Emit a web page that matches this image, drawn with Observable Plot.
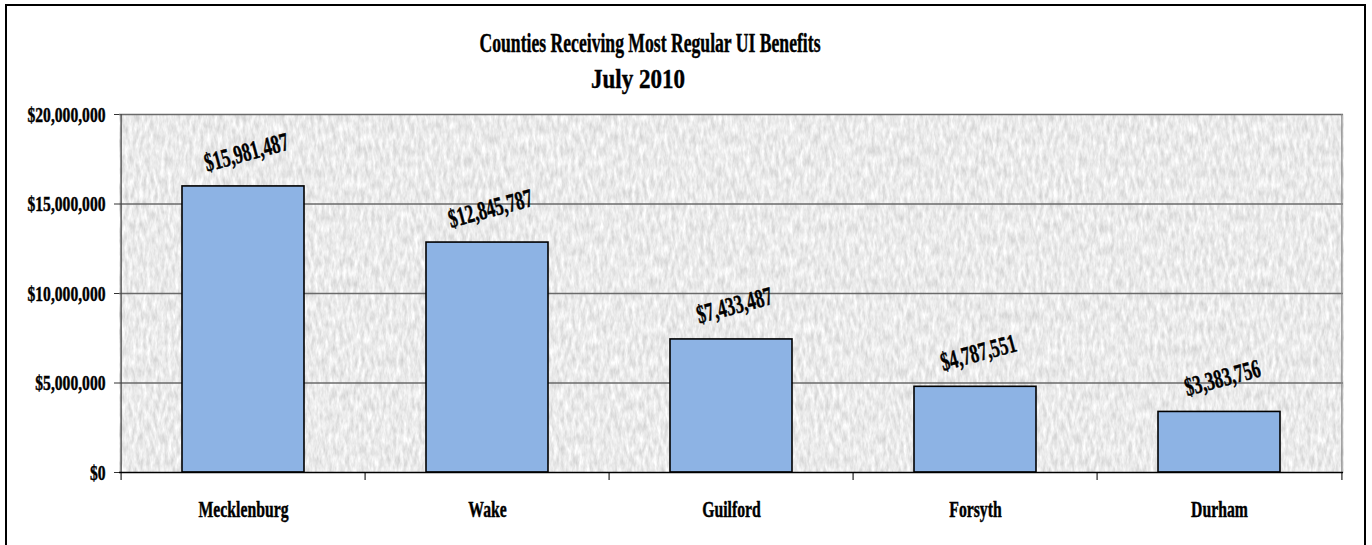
<!DOCTYPE html>
<html>
<head>
<meta charset="utf-8">
<script src="https://cdn.jsdelivr.net/npm/d3@7"></script>
<script src="https://cdn.jsdelivr.net/npm/@observablehq/plot@0.6"></script>
<style>
  html, body { margin: 0; padding: 0; background: #fff; overflow: hidden; }
  #wrap { position: relative; width: 1372px; height: 545px; overflow: hidden;
          font-family: "Liberation Serif", "Times New Roman", serif; }
  #border { position: absolute; left: 5px; top: 4px; width: 1357px; height: 600px;
            border: 2px solid #000; pointer-events: none; }
  #title { display: block; }
  #chart svg { display: block; }
  svg text { stroke: #000; stroke-width: 0.45px; }
</style>
</head>
<body>
<div id="wrap">
  <div id="border"></div>
  <svg id="title" width="1372" height="100"></svg>
  <div id="chart"></div>
</div>
<script>
// ---- data ----
const titleLines = ["Counties Receiving Most Regular UI Benefits", "July 2010"];
const counties = ["Mecklenburg", "Wake", "Guilford", "Forsyth", "Durham"];
const benefits = [15981487, 12845787, 7433487, 4787551, 3383756];
const yTicks = [0, 5000000, 10000000, 15000000, 20000000];

// ---- title ----
const fmt = d => "$" + d3.format(",")(d);
const tsvg = d3.select("#title");
const titleSpec = [
  {text: titleLines[0], x: 650, y: 52, len: 341},
  {text: titleLines[1], x: 638, y: 88, len: 94}
];
titleSpec.forEach(s => {
  tsvg.append("text")
    .attr("x", s.x).attr("y", s.y)
    .attr("text-anchor", "middle")
    .attr("font-family", '"Liberation Serif", "Times New Roman", serif')
    .attr("font-weight", "bold")
    .attr("font-size", 28)
    .attr("textLength", s.len)
    .attr("lengthAdjust", "spacingAndGlyphs")
    .text(s.text);
});

// ---- chart ----
const W = 1372, H = 445, mL = 119, mR = 29, mT = 14, mB = 73;
const step = (W - mL - mR) / counties.length;
const data = counties.map((c, i) => ({county: c, value: benefits[i]}));
const last = counties[counties.length - 1];

const plot = Plot.plot({
  width: W, height: H,
  marginLeft: mL, marginRight: mR, marginTop: mT, marginBottom: mB,
  style: {fontFamily: '"Liberation Serif", "Times New Roman", serif', background: "transparent", color: "#000"},
  x: {domain: counties, paddingInner: 0.5, paddingOuter: 0.25, label: null},
  y: {domain: [0, 20000000], label: null},
  marks: [
    Plot.frame({fill: "#ececec", stroke: null}),
    Plot.ruleY(yTicks.slice(1), {stroke: "#6a6a6a", strokeWidth: 1.3}),
    Plot.ruleX([last], {dx: step / 2, y1: 0, y2: 20000000, stroke: "#8a8a8a", strokeWidth: 1.3}),
    Plot.ruleX([counties[0]], {dx: -step / 2, y1: 0, y2: 20000000, stroke: "#444", strokeWidth: 1.3}),
    Plot.ruleX(counties, {x: d => d, dx: -step / 2, y1: 0, y2: 0, insetBottom: -8, stroke: "#333", strokeWidth: 1.3}),
    Plot.ruleX([last], {x: d => d, dx: step / 2, y1: 0, y2: 0, insetBottom: -8, stroke: "#333", strokeWidth: 1.3}),
    Plot.barY(data, {x: "county", y: "value", fill: "#8db3e4", stroke: "#000", strokeWidth: 1.6}),
    Plot.ruleY([0], {stroke: "#000", strokeWidth: 1.6}),
    Plot.text(data, {x: "county", y: "value", text: d => fmt(d.value), dx: 3, dy: -34, rotate: -15,
      fontSize: 26, fontWeight: "bold", fill: "#000"}),
    Plot.axisY({ticks: yTicks, tickSize: 5, tickPadding: 9, tickFormat: fmt,
      fontSize: 22, fontWeight: "bold", stroke: "#333"}),
    Plot.axisX({tickSize: 0, tickPadding: 28, fontSize: 23, fontWeight: "bold"})
  ]
});
document.getElementById("chart").appendChild(plot);

// ---- texture on plot background ----
const svg = plot.tagName.toLowerCase() === "svg" ? plot : plot.querySelector("svg");
const NS = "http://www.w3.org/2000/svg";
const defs = document.createElementNS(NS, "defs");
defs.innerHTML = `
<filter id="granite" x="0" y="0" width="1" height="1" color-interpolation-filters="sRGB">
  <feTurbulence type="fractalNoise" baseFrequency="0.28 0.09" numOctaves="3" seed="7" result="n"/>
  <feColorMatrix in="n" type="matrix" values="0.26 0 0 0 0.79  0.26 0 0 0 0.79  0.26 0 0 0 0.79  0 0 0 0 1"/>
</filter>`;
svg.insertBefore(defs, svg.firstChild);
const frameEl = svg.querySelector('[aria-label="frame"]');
if (frameEl) {
  const r = frameEl.tagName.toLowerCase() === "rect" ? frameEl : frameEl.querySelector("rect");
  if (r) r.setAttribute("filter", "url(#granite)");
}

// ---- condensed bold serif look ----
const texts = Array.from(svg.querySelectorAll("text"));
function factorFor(str, target) {
  const t = texts.find(e => e.textContent === str);
  return t ? target / t.getComputedTextLength() : 1;
}
const yLabels = new Set(yTicks.map(fmt));
const xLabels = new Set(counties);
const vLabels = new Set(benefits.map(fmt));
const fy = factorFor(fmt(20000000), 78);
const fx = factorFor("Mecklenburg", 90);
const fv = factorFor(fmt(12845787), 86);
texts.forEach(t => {
  const s = t.textContent;
  let f = null;
  if (yLabels.has(s)) f = fy;
  else if (xLabels.has(s)) f = fx;
  else if (vLabels.has(s)) f = fv;
  if (f) {
    t.setAttribute("textLength", t.getComputedTextLength() * f);
    t.setAttribute("lengthAdjust", "spacingAndGlyphs");
  }
});
</script>
</body>
</html>
